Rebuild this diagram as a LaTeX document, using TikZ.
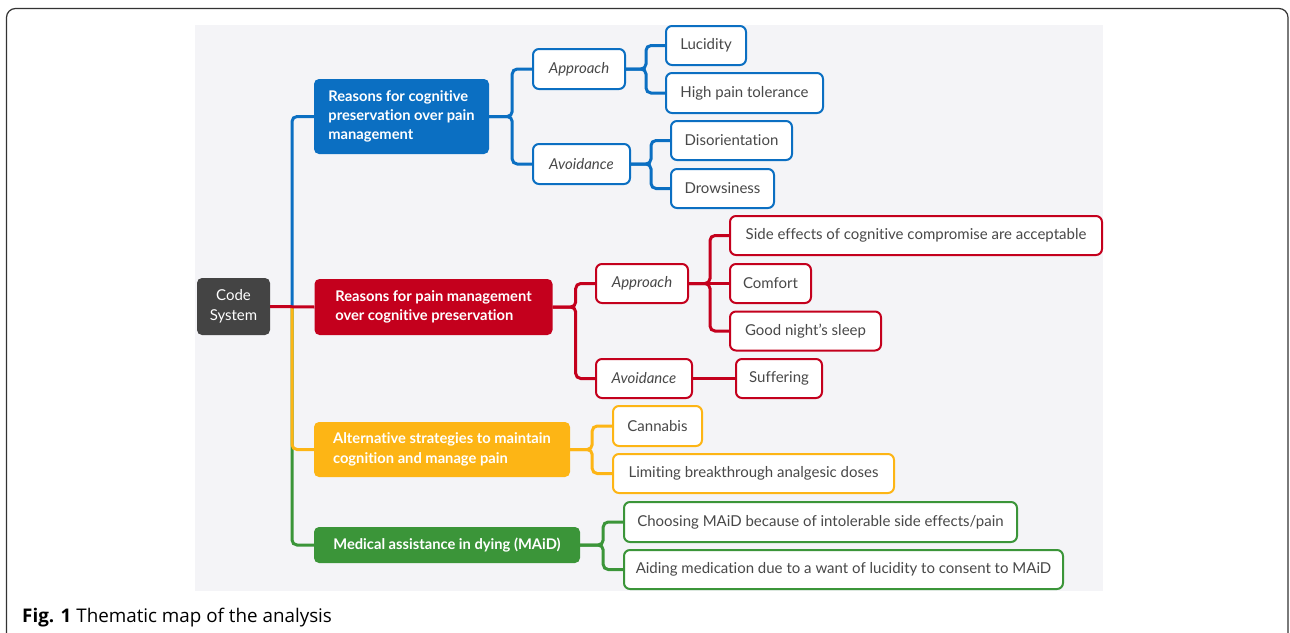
\documentclass[tikz,border=0pt]{standalone}
\usepackage{fontspec}
\setmainfont{Lato}[Ligatures=NoCommon]
\newfontfamily\capfont{Open Sans}
\definecolor{cblue}{HTML}{0B6FC2}
\definecolor{cred}{HTML}{C4001D}
\definecolor{cyel}{HTML}{FDB515}
\definecolor{cgreen}{HTML}{3B9539}
\definecolor{cdark}{HTML}{444444}
\definecolor{bgg}{HTML}{F4F4F7}
\definecolor{txt}{HTML}{484848}
\definecolor{frame}{HTML}{333333}
\tikzset{
  mainbox/.style={fill=#1, text=white, font=\fontsize{14.7}{19.3}\selectfont\bfseries, rounded corners=5pt, align=left, inner sep=0pt},
  leaf/.style={draw=#1, line width=2pt, fill=white, text=txt, font=\fontsize{15}{17}\selectfont, rounded corners=6pt, inner sep=0pt},
  sub/.style={leaf=#1, font=\fontsize{15}{17}\selectfont\itshape},
  conn/.style={draw=#1, line width=3pt, rounded corners=5pt},
}
\begin{document}
\begin{tikzpicture}[x=1pt,y=-1pt]
\useasboundingbox (0,0) rectangle (1290,632);
\fill[white] (0,0) rectangle (1290,632);
\draw[frame, line width=1.2pt, rounded corners=9pt] (6.5,8.5) rectangle (1288,660);
\fill[bgg] (195,25) rectangle (1103,591);

% nodes
\node[fill=cdark, text=white, font=\fontsize{15}{19.5}\selectfont, rounded corners=5pt, align=center, minimum width=73pt, minimum height=57pt, inner sep=0pt] (cs) at (233.5,306.5) {Code\\System};
\node[mainbox=cblue, minimum width=175pt, minimum height=75pt] (b1) at (401.5,116.5) {Reasons for cognitive\\preservation over pain\\management};
\node[mainbox=cred, minimum width=238pt, minimum height=56pt] (r1) at (433.5,307) {Reasons for pain management\\over cognitive preservation};
\node[mainbox=cyel, minimum width=256pt, minimum height=55pt] (y1) at (442,449.5) {Alternative strategies to maintain\\cognition and manage pain};
\node[mainbox=cgreen, minimum width=266pt, minimum height=36pt] (g1) at (447,545) {Medical assistance in dying (MAiD)};

\node[sub=cblue, minimum width=92pt, minimum height=40pt] (ba) at (579,69) {Approach};
\node[sub=cblue, minimum width=97pt, minimum height=40pt] (bv) at (581.5,164) {Avoidance};
\node[leaf=cblue, minimum width=80pt, minimum height=39pt] (luc) at (706,45.5) {Lucidity};
\node[leaf=cblue, minimum width=157pt, minimum height=40pt] (hpt) at (744.5,93) {High pain tolerance};
\node[leaf=cblue, minimum width=121pt, minimum height=39pt] (dis) at (731.5,140.5) {Disorientation};
\node[leaf=cblue, minimum width=103pt, minimum height=39pt] (drw) at (722.5,188.5) {Drowsiness};

\node[sub=cred, minimum width=92pt, minimum height=39pt] (ra) at (642,283.5) {Approach};
\node[sub=cred, minimum width=96pt, minimum height=39pt] (rv) at (644,378.5) {Avoidance};
\node[leaf=cred, minimum width=372pt, minimum height=39pt] (sec) at (916,235.5) {Side effects of cognitive compromise are acceptable};
\node[leaf=cred, minimum width=81pt, minimum height=39pt] (com) at (770.5,283.5) {Comfort};
\node[leaf=cred, minimum width=151pt, minimum height=39pt] (gns) at (805.5,331) {Good night’s sleep};
\node[leaf=cred, minimum width=86pt, minimum height=39pt] (suf) at (779,378.5) {Suffering};

\node[leaf=cyel, minimum width=89pt, minimum height=40pt] (can) at (657.5,426) {Cannabis};
\node[leaf=cyel, minimum width=281pt, minimum height=39pt] (lim) at (753.5,473.5) {Limiting breakthrough analgesic doses};

\node[leaf=cgreen, minimum width=393pt, minimum height=40pt] (cho) at (820.5,522) {Choosing MAiD because of intolerable side effects/pain};
\node[leaf=cgreen, minimum width=439pt, minimum height=39pt] (aid) at (843.5,569.5) {Aiding medication due to a want of lucidity to consent to MAiD};

% connectors
\coordinate (hub) at (292,306.5);
\draw[conn=cgreen] (hub) |- (g1.west);
\draw[conn=cyel] (hub) |- (y1.west);
\draw[conn=cblue] (hub) |- (b1.west);
\draw[conn=cred] (cs.east) -- (r1.west);

\draw[conn=cblue] (b1.east) -- ++(23,0) |- (ba.west);
\draw[conn=cblue] (b1.east) -- ++(23,0) |- (bv.west);
\draw[conn=cblue] (ba.east) -- ++(20,0) |- (luc.west);
\draw[conn=cblue] (ba.east) -- ++(20,0) |- (hpt.west);
\draw[conn=cblue] (bv.east) -- ++(20,0) |- (dis.west);
\draw[conn=cblue] (bv.east) -- ++(20,0) |- (drw.west);

\draw[conn=cred] (r1.east) -- ++(23,0) |- (ra.west);
\draw[conn=cred] (r1.east) -- ++(23,0) |- (rv.west);
\draw[conn=cred] (ra.east) -- ++(21,0) |- (sec.west);
\draw[conn=cred] (ra.east) -- (com.west);
\draw[conn=cred] (ra.east) -- ++(21,0) |- (gns.west);
\draw[conn=cred] (rv.east) -- (suf.west);

\draw[conn=cyel] (y1.east) -- ++(22,0) |- (can.west);
\draw[conn=cyel] (y1.east) -- ++(22,0) |- (lim.west);

\draw[conn=cgreen] (g1.east) -- ++(23,0) |- (cho.west);
\draw[conn=cgreen] (g1.east) -- ++(23,0) |- (aid.west);

% caption
\node[anchor=base west, inner sep=0pt, font=\capfont\fontsize{18.8}{22}\selectfont, text=black] (cap) at (22,622) {\textbf{Fig. 1} Thematic map of the analysis};
\end{tikzpicture}
\end{document}
